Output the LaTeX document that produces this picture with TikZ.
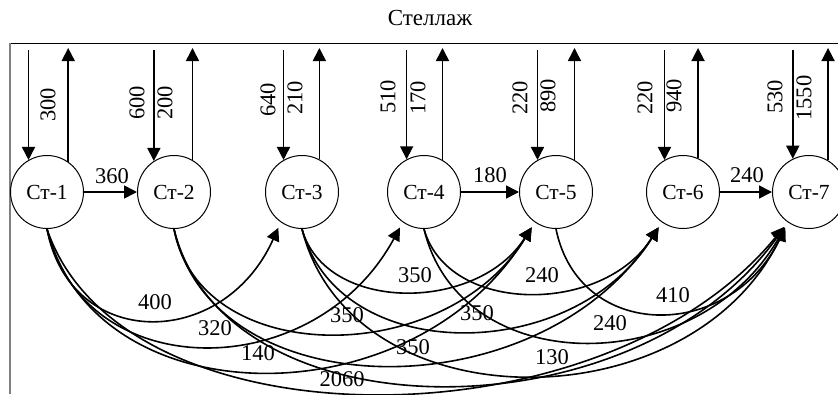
\documentclass[tikz,border=0pt]{standalone}
\usepackage{fontspec}
\setmainfont{Liberation Serif}
\usetikzlibrary{arrows.meta}
\begin{document}
\begin{tikzpicture}[x=1pt,y=-1pt,
  st/.style={circle,draw,line width=1pt,minimum size=73pt,inner sep=0pt,font=\fontsize{21.5}{24}\selectfont},
  flow/.style={line width=1.6pt,-{Triangle[length=13pt,width=13pt]}},
  curv/.style={flow,shorten >=6pt},
  lbl/.style={font=\fontsize{22.5}{25}\selectfont,inner sep=0pt},
  vl/.style={lbl,rotate=90}]
\useasboundingbox (0,0) rectangle (838,394);
\clip (0,0) rectangle (838,394);
% frame
\coordinate (ftl) at (10,43);
\coordinate (ftr) at (838,43);
\coordinate (fbl) at (10,394);
\draw[line width=0.9pt] (ftl) -- (ftr);
\draw[line width=1.2pt,gray] (ftl) -- (fbl);
\node[font=\fontsize{23}{26}\selectfont,anchor=base,inner sep=0pt] (title) at (430,25) {Стеллаж};
% stations
\node[st] (s1) at (47,192) {Ст-1};
\node[st] (s2) at (174,192) {Ст-2};
\node[st] (s3) at (302,192) {Ст-3};
\node[st] (s4) at (424,192) {Ст-4};
\node[st] (s5) at (556,192) {Ст-5};
\node[st] (s6) at (683,192) {Ст-6};
\node[st] (s7) at (809,192) {Ст-7};
% vertical flows to and from the rack
\foreach \n/\a/\b in {1/120/55,2/123/60,3/120/62,4/118/60,5/120/60,6/120/66,7/116/59}{
  \draw[flow] (s\n.\a |- 0,50) -- (s\n.\a);
  \draw[flow] (s\n.\b) -- (s\n.\b |- 0,48);
}
\node[vl] (v1) at (48,105) {300};
\node[vl] (v2a) at (137,103) {600};
\node[vl] (v2b) at (165,103) {200};
\node[vl] (v3a) at (268,100) {640};
\node[vl] (v3b) at (295,98) {210};
\node[vl] (v4a) at (388,97) {510};
\node[vl] (v4b) at (418,98) {170};
\node[vl] (v5a) at (520,98) {220};
\node[vl] (v5b) at (548,96) {890};
\node[vl] (v6a) at (645,98) {220};
\node[vl] (v6b) at (674,96) {940};
\node[vl] (v7a) at (775,97) {530};
\node[vl] (v7b) at (804,98) {1550};
% horizontal flows
\draw[flow] (s1) -- (s2);
\draw[flow] (s4) -- (s5);
\draw[flow] (s6) -- (s7);
\node[lbl] (h12) at (112,176) {360};
\node[lbl] (h45) at (490,175) {180};
\node[lbl] (h67) at (747,175) {240};
% curved flows
\draw[curv] (s1.south) .. controls (70,351) and (223,351) .. (s3.-125);
\draw[curv] (s1.south) .. controls (83,386) and (314,386) .. (s4.-125);
\draw[curv] (s1.south) .. controls (96,420) and (413,420) .. (s5.-125);
\draw[curv] (s1.south) .. controls (121,449) and (603,449) .. (s7.-125);
\draw[curv] (s2.south) .. controls (200,369) and (445,369) .. (s5.-125);
\draw[curv] (s2.south) .. controls (213,411) and (540,411) .. (s6.-125);
\draw[curv] (s2.south) .. controls (225,438) and (634,438) .. (s7.-125);
\draw[curv] (s3.south) .. controls (325,313) and (477,313) .. (s5.-125);
\draw[curv] (s3.south) .. controls (338,366) and (572,366) .. (s6.-125);
\draw[curv] (s3.south) .. controls (351,425) and (690,425) .. (s7.-125);
\draw[curv] (s4.south) .. controls (448,315) and (603,315) .. (s6.-125);
\draw[curv] (s4.south) .. controls (460,380) and (697,380) .. (s7.-125);
\draw[curv] (s5.south) .. controls (579,342) and (730,342) .. (s7.-125);
% curve labels
\node[lbl] (c13) at (155,302) {400};
\node[lbl] (c14) at (215,328) {320};
\node[lbl] (c15) at (258,353) {140};
\node[lbl] (c17) at (342,379) {2060};
\node[lbl] (c25) at (347,315) {350};
\node[lbl] (c26) at (413,347) {350};
\node[lbl] (c35) at (415,275) {350};
\node[lbl] (c36) at (477,313) {350};
\node[lbl] (c37) at (552,357) {130};
\node[lbl] (c46) at (542,275) {240};
\node[lbl] (c47) at (610,323) {240};
\node[lbl] (c57) at (673,295) {410};
\end{tikzpicture}
\end{document}
